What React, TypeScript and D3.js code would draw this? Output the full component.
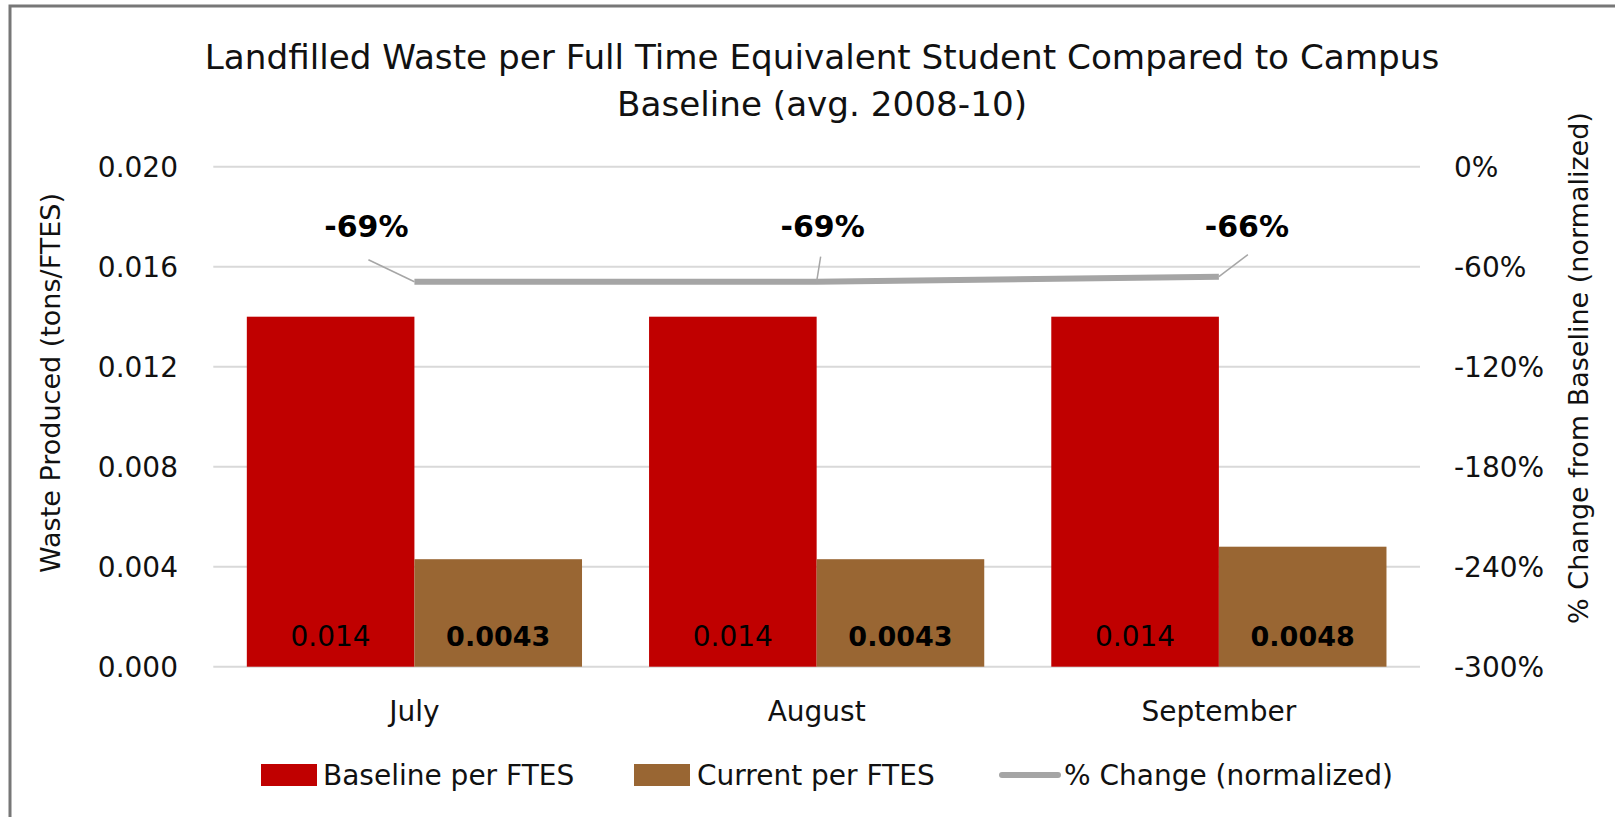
import React, { useEffect } from "react";
import * as d3 from "d3";

const months = ["July", "August", "September"];
const baselinePerFTES = [0.014, 0.014, 0.014];
const currentPerFTES = [0.0043, 0.0043, 0.0048];
const pctChange = [-69, -69, -66];
const leftTicks = [0, 0.004, 0.008, 0.012, 0.016, 0.02];
const rightTicks = [0, -60, -120, -180, -240, -300];
const seriesNames = ["Baseline per FTES", "Current per FTES", "% Change (normalized)"];
const titleLines = [
  "Landfilled Waste per Full Time Equivalent Student Compared to Campus",
  "Baseline (avg. 2008-10)",
];
const leftAxisTitle = "Waste Produced (tons/FTES)";
const rightAxisTitle = "% Change from Baseline (normalized)";

// label offsets (style, relative to line points)
const labelOffsets = [
  { dx: -48, leaderX: -46, leaderY: -22 },
  { dx: 6, leaderX: 4, leaderY: -25 },
  { dx: 28, leaderX: 29, leaderY: -22 },
];
const LABEL_Y = 237;

const W = 1615;
const H = 817;
const M = { left: 213.3, right: 1420, top: 166.7, bottom: 666.7 };
const FONT = "'DejaVu Sans', Verdana, sans-serif";
const RED = "#C00000";
const BROWN = "#996633";
const GRAY = "#A5A5A5";
const GRID = "#D9D9D9";

export default function App() {
  useEffect(() => {
    document.body.style.margin = "0";
    document.body.style.overflow = "hidden";
  }, []);

  const x0 = d3.scaleBand<string>().domain(months).range([M.left, M.right]).padding(0);
  const x1 = d3
    .scaleBand<string>()
    .domain(["baseline", "current"])
    .range([0, x0.step()])
    .paddingInner(0)
    .paddingOuter(0.2);
  const yL = d3.scaleLinear().domain([0, 0.02]).range([M.bottom, M.top]);
  const yR = d3.scaleLinear().domain([-300, 0]).range([M.bottom, M.top]);
  const cx = (m: string) => (x0(m) ?? 0) + x0.bandwidth() / 2;

  const pts: [number, number][] = months.map((m, i) => [cx(m), yR(pctChange[i])]);
  const line = d3.line();
  const fmtL = d3.format(".3f");
  const fmtV = d3.format(".2~g");

  return (
    <svg
      width={W}
      height={H}
      style={{ position: "absolute", left: 0, top: 0, background: "#fff", display: "block" }}
      fontFamily={FONT}
    >
      <rect x={0} y={0} width={W} height={H} fill="#fff" />
      <path d={`M10,${H} L10,6 L${W},6`} fill="none" stroke="#777" strokeWidth={3} />

      {/* title */}
      {titleLines.map((t, i) => (
        <text key={i} x={822} y={69 + i * 47} fontSize={34.2} textAnchor="middle" fill="#111">
          {t}
        </text>
      ))}

      {/* gridlines */}
      {leftTicks.map((t) => (
        <line key={t} x1={M.left} x2={M.right} y1={yL(t)} y2={yL(t)} stroke={GRID} strokeWidth={2} />
      ))}

      {/* left ticks */}
      {leftTicks.map((t) => (
        <text key={"l" + t} x={178} y={yL(t)} dy="0.36em" fontSize={28} textAnchor="end" fill="#111">
          {fmtL(t)}
        </text>
      ))}
      {/* right ticks */}
      {rightTicks.map((t) => (
        <text key={"r" + t} x={1454} y={yR(t)} dy="0.36em" fontSize={28} textAnchor="start" fill="#111">
          {t + "%"}
        </text>
      ))}

      {/* axis titles */}
      <text transform="translate(60,383) rotate(-90)" fontSize={27} textAnchor="middle" fill="#111">
        {leftAxisTitle}
      </text>
      <text transform="translate(1588,368) rotate(-90)" fontSize={27} textAnchor="middle" fill="#111">
        {rightAxisTitle}
      </text>

      {/* bars */}
      {months.map((m, i) => (
        <g key={m} transform={`translate(${x0(m)},0)`}>
          <rect
            x={x1("baseline")}
            y={yL(baselinePerFTES[i])}
            width={x1.bandwidth()}
            height={yL(0) - yL(baselinePerFTES[i])}
            fill={RED}
          />
          <rect
            x={x1("current")}
            y={yL(currentPerFTES[i])}
            width={x1.bandwidth()}
            height={yL(0) - yL(currentPerFTES[i])}
            fill={BROWN}
          />
          <text
            x={(x1("baseline") ?? 0) + x1.bandwidth() / 2}
            y={yL(0) - 21}
            fontSize={28}
            textAnchor="middle"
            fill="#000"
          >
            {fmtV(baselinePerFTES[i])}
          </text>
          <text
            x={(x1("current") ?? 0) + x1.bandwidth() / 2}
            y={yL(0) - 21}
            fontSize={27}
            fontWeight="bold"
            textAnchor="middle"
            fill="#000"
          >
            {fmtV(currentPerFTES[i])}
          </text>
        </g>
      ))}

      {/* x labels */}
      {months.map((m) => (
        <text key={"x" + m} x={cx(m)} y={721} fontSize={28} textAnchor="middle" fill="#111">
          {m}
        </text>
      ))}

      {/* % change line */}
      <path d={line(pts) ?? ""} fill="none" stroke={GRAY} strokeWidth={6} strokeLinejoin="round" />

      {/* leader lines and labels */}
      {pts.map(([px, py], i) => (
        <g key={"lab" + i}>
          <line
            x1={px}
            y1={py}
            x2={px + labelOffsets[i].leaderX}
            y2={py + labelOffsets[i].leaderY}
            stroke="#A6A6A6"
            strokeWidth={1.5}
          />
          <text
            x={px + labelOffsets[i].dx}
            y={LABEL_Y}
            fontSize={30}
            fontWeight="bold"
            textAnchor="middle"
            fill="#000"
          >
            {pctChange[i] + "%"}
          </text>
        </g>
      ))}

      {/* legend */}
      <rect x={261} y={764} width={56} height={22} fill={RED} />
      <text x={323} y={785} fontSize={28} fill="#111">
        {seriesNames[0]}
      </text>
      <rect x={634} y={764} width={56} height={22} fill={BROWN} />
      <text x={697} y={785} fontSize={28} fill="#111">
        {seriesNames[1]}
      </text>
      <line x1={1002} x2={1058} y1={775} y2={775} stroke={GRAY} strokeWidth={6} strokeLinecap="round" />
      <text x={1064} y={785} fontSize={28} fill="#111">
        {seriesNames[2]}
      </text>
    </svg>
  );
}
